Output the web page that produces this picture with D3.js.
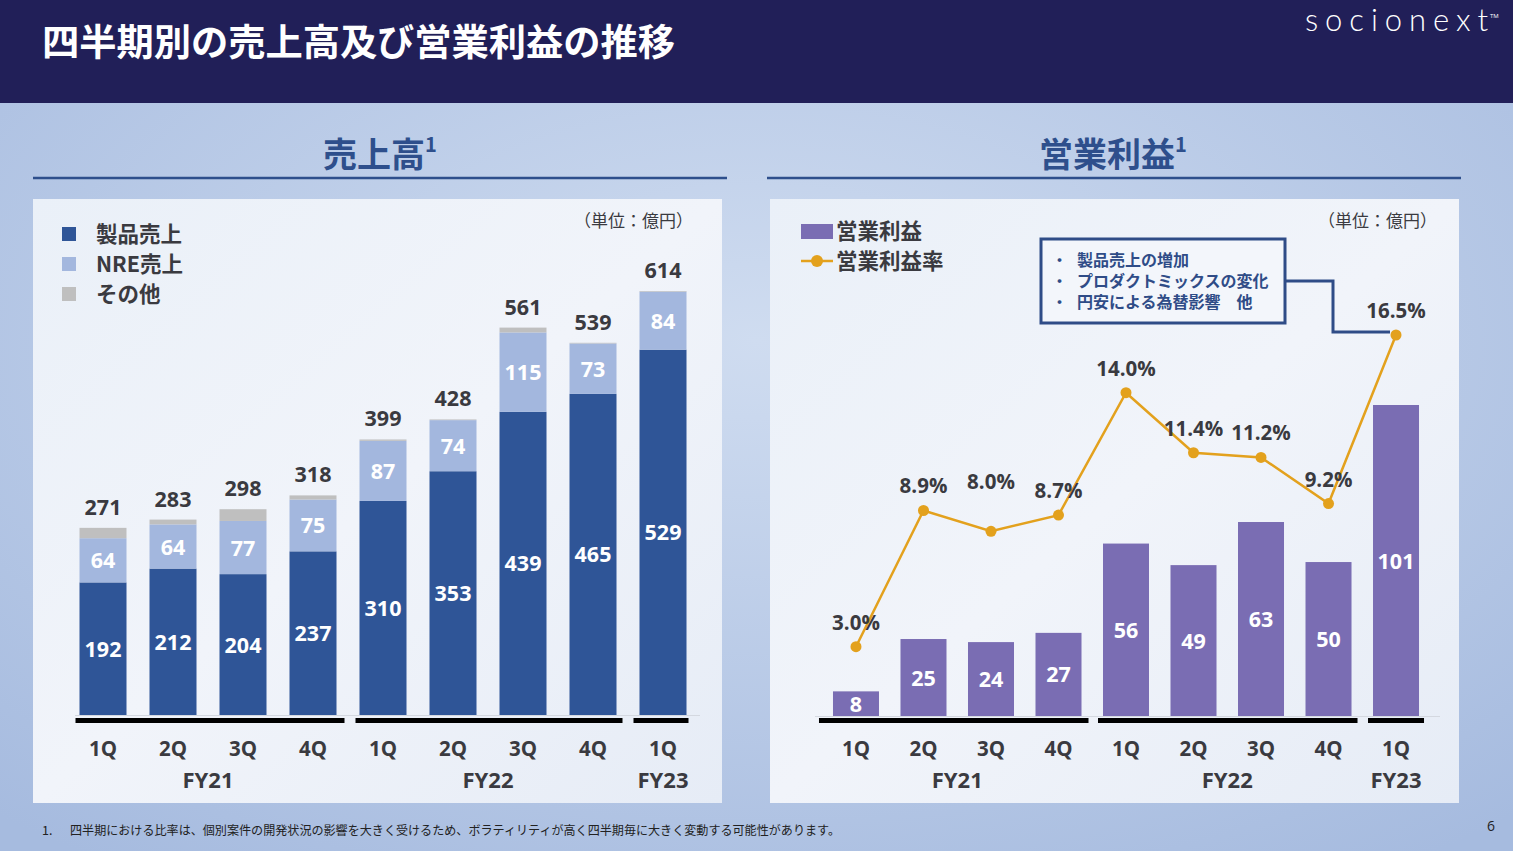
<!DOCTYPE html>
<html>
<head>
<meta charset="utf-8">
<script src="https://cdn.jsdelivr.net/npm/d3@7"></script>
<style>
  html, body { margin: 0; padding: 0; background: #a9bee0; }
  svg { display: block; }
</style>
</head>
<body>
<svg id="chart" width="1513" height="851"></svg>
<script>
// ---------------- data ----------------
const quarters = ["1Q", "2Q", "3Q", "4Q", "1Q", "2Q", "3Q", "4Q", "1Q"];
const fiscalYears = [
  { label: "FY21", start: 0, end: 3 },
  { label: "FY22", start: 4, end: 7 },
  { label: "FY23", start: 8, end: 8 }
];
const productSales = [192, 212, 204, 237, 310, 353, 439, 465, 529];
const nreSales = [64, 64, 77, 75, 87, 74, 115, 73, 84];
const totalSales = [271, 283, 298, 318, 399, 428, 561, 539, 614];
const operatingProfit = [8, 25, 24, 27, 56, 49, 63, 50, 101];
const operatingMargin = [3.0, 8.9, 8.0, 8.7, 14.0, 11.4, 11.2, 9.2, 16.5];
const marginLabelText = ["3.0%", "8.9%", "8.0%", "8.7%", "14.0%", "11.4%", "11.2%", "9.2%", "16.5%"];
const salesLegend = ["製品売上", "NRE売上", "その他"];
const profitLegend = ["営業利益", "営業利益率"];
const calloutLines = ["製品売上の増加", "プロダクトミックスの変化", "円安による為替影響　他"];

// ---------------- style ----------------
const C = {
  header: "#211f58",
  product: "#2f5597",
  nre: "#a3b7de",
  other: "#bfbfbf",
  purple: "#7a6db3",
  gold: "#e3a11d",
  title: "#2e4f8c",
  text: "#3a3a40",
  box: "#2f4c87"
};
const JP = "'Noto Sans CJK JP', 'Noto Sans', sans-serif";
const NUM = "'Open Sans', 'Noto Sans', sans-serif";

const svg = d3.select("#chart");
const defs = svg.append("defs");

// background gradient
const bg = defs.append("radialGradient").attr("id", "bg")
  .attr("cx", "50%").attr("cy", "40%").attr("r", "75%");
bg.append("stop").attr("offset", "0%").attr("stop-color", "#cfdcf0");
bg.append("stop").attr("offset", "100%").attr("stop-color", "#a6bbdf");
svg.append("rect").attr("width", 1513).attr("height", 851).attr("fill", "url(#bg)");

const pg = defs.append("linearGradient").attr("id", "panel")
  .attr("x1", "0").attr("y1", "0").attr("x2", "1").attr("y2", "1");
pg.append("stop").attr("offset", "0%").attr("stop-color", "#eaf0f8");
pg.append("stop").attr("offset", "50%").attr("stop-color", "#f1f4fa");
pg.append("stop").attr("offset", "100%").attr("stop-color", "#e6ecf6");

// header
svg.append("rect").attr("width", 1513).attr("height", 103).attr("fill", C.header);
svg.append("text").attr("x", 42).attr("y", 56)
  .attr("font-family", JP).attr("font-weight", 700).attr("font-size", 37)
  .attr("fill", "#ffffff").attr("textLength", 633).attr("lengthAdjust", "spacingAndGlyphs")
  .text("四半期別の売上高及び営業利益の推移");
svg.append("text").attr("x", 1305).attr("y", 31)
  .attr("font-family", "Lato, 'Open Sans', sans-serif").attr("font-weight", 300)
  .attr("font-size", 31).attr("fill", "#ffffff")
  .attr("textLength", 183).attr("lengthAdjust", "spacing").text("socionext");
svg.append("text").attr("x", 1490).attr("y", 18)
  .attr("font-family", NUM).attr("font-size", 6).attr("fill", "#ffffff").text("TM");

// section titles
function sectionTitle(cx, label, x0, x1) {
  const t = svg.append("text").attr("x", cx).attr("y", 167).attr("text-anchor", "middle")
    .attr("font-family", JP).attr("font-weight", 700).attr("font-size", 34).attr("fill", C.title);
  t.append("tspan").text(label);
  t.append("tspan").attr("font-size", 20).attr("dy", -15).text("1");
  svg.append("line").attr("x1", x0).attr("x2", x1).attr("y1", 178).attr("y2", 178)
    .attr("stroke", C.title).attr("stroke-width", 2.5);
}
sectionTitle(380, "売上高", 33, 727);
sectionTitle(1113, "営業利益", 767, 1461);

// panels
svg.append("rect").attr("x", 33).attr("y", 199).attr("width", 689).attr("height", 604).attr("fill", "url(#panel)");
svg.append("rect").attr("x", 770).attr("y", 199).attr("width", 689).attr("height", 604).attr("fill", "url(#panel)");

// unit labels
svg.append("text").attr("x", 693).attr("y", 227).attr("text-anchor", "end")
  .attr("font-family", JP).attr("font-size", 17).attr("fill", C.text).text("（単位：億円）");
svg.append("text").attr("x", 1437).attr("y", 227).attr("text-anchor", "end")
  .attr("font-family", JP).attr("font-size", 17).attr("fill", C.text).text("（単位：億円）");

// ---------------- left chart: 売上高 ----------------
const idx = d3.range(quarters.length);
const xL = d3.scaleBand().domain(idx).range([68, 698]).paddingInner(0.3286).paddingOuter(0.1643);
const yL = d3.scaleLinear().domain([0, 614]).range([715, 291]);

const stacks = idx.map(i => {
  const other = totalSales[i] - productSales[i] - nreSales[i];
  return [
    { key: "product", y0: 0, y1: productSales[i], v: productSales[i], color: C.product },
    { key: "nre", y0: productSales[i], y1: productSales[i] + nreSales[i], v: nreSales[i], color: C.nre },
    { key: "other", y0: productSales[i] + nreSales[i], y1: totalSales[i], v: other, color: C.other }
  ].map(d => Object.assign(d, { i }));
});

const gL = svg.append("g");
gL.append("line").attr("x1", 75).attr("x2", 700).attr("y1", yL(0) + 0.5).attr("y2", yL(0) + 0.5)
  .attr("stroke", "#d4d8e0").attr("stroke-width", 1);

stacks.forEach(st => {
  gL.selectAll(null).data(st).enter().append("rect")
    .attr("x", d => xL(d.i)).attr("width", xL.bandwidth())
    .attr("y", d => yL(d.y1)).attr("height", d => Math.max(0, yL(d.y0) - yL(d.y1)))
    .attr("fill", d => d.color);
  gL.selectAll(null).data(st.filter(d => d.key !== "other")).enter().append("text")
    .attr("x", d => xL(d.i) + xL.bandwidth() / 2)
    .attr("y", d => (yL(d.y0) + yL(d.y1)) / 2 + 8)
    .attr("text-anchor", "middle").attr("font-family", NUM).attr("font-weight", 700)
    .attr("font-size", 21.5).attr("fill", "#ffffff").text(d => d.v);
});
gL.selectAll(null).data(idx).enter().append("text")
  .attr("x", i => xL(i) + xL.bandwidth() / 2).attr("y", i => yL(totalSales[i]) - 13)
  .attr("text-anchor", "middle").attr("font-family", NUM).attr("font-weight", 700)
  .attr("font-size", 21.5).attr("fill", C.text).text(i => totalSales[i]);

// x axis
function drawXAxis(g, x, groupExt) {
  g.selectAll(null).data(fiscalYears).enter().append("rect")
    .attr("x", (d, k) => x(d.start) - groupExt[k][0])
    .attr("width", (d, k) => x(d.end) + x.bandwidth() + groupExt[k][1] - (x(d.start) - groupExt[k][0]))
    .attr("y", 718).attr("height", 5).attr("fill", "#000000");
  g.selectAll(null).data(idx).enter().append("text")
    .attr("x", i => x(i) + x.bandwidth() / 2).attr("y", 756)
    .attr("text-anchor", "middle").attr("font-family", NUM).attr("font-weight", 700)
    .attr("font-size", 20.5).attr("fill", C.text).text(i => quarters[i]);
  g.selectAll(null).data(fiscalYears).enter().append("text")
    .attr("x", d => (x(d.start) + x(d.end) + x.bandwidth()) / 2).attr("y", 788)
    .attr("text-anchor", "middle").attr("font-family", NUM).attr("font-weight", 700)
    .attr("font-size", 22).attr("fill", C.text).text(d => d.label);
}
drawXAxis(gL, xL, [[4, 8], [4, 6], [6, 2]]);

// legend (left)
const legColors = [C.product, C.nre, C.other];
salesLegend.forEach((s, k) => {
  const cy = 234 + k * 30;
  svg.append("rect").attr("x", 62).attr("y", cy - 7).attr("width", 14).attr("height", 14).attr("fill", legColors[k]);
  svg.append("text").attr("x", 96).attr("y", cy + 8).attr("font-family", JP).attr("font-weight", 700)
    .attr("font-size", 21.5).attr("fill", C.text).text(s);
});

// ---------------- right chart: 営業利益 ----------------
const xR = d3.scaleBand().domain(idx).range([822.25, 1429.75]).paddingInner(0.3185).paddingOuter(0.159);
const yR = d3.scaleLinear().domain([0, 101]).range([716, 405]);
const yP = d3.scaleLinear().domain([0, 16.5]).range([716, 335]);

const gR = svg.append("g");
gR.append("line").attr("x1", 815).attr("x2", 1440).attr("y1", 716.5).attr("y2", 716.5)
  .attr("stroke", "#d4d8e0").attr("stroke-width", 1);
gR.selectAll(null).data(idx).enter().append("rect")
  .attr("x", i => xR(i)).attr("width", xR.bandwidth())
  .attr("y", i => yR(operatingProfit[i])).attr("height", i => yR(0) - yR(operatingProfit[i]))
  .attr("fill", C.purple);
gR.selectAll(null).data(idx).enter().append("text")
  .attr("x", i => xR(i) + xR.bandwidth() / 2)
  .attr("y", i => (yR(0) + yR(operatingProfit[i])) / 2 + 8)
  .attr("text-anchor", "middle").attr("font-family", NUM).attr("font-weight", 700)
  .attr("font-size", 21.5).attr("fill", "#ffffff").text(i => operatingProfit[i]);

drawXAxis(gR, xR, [[14, 7], [5, 6], [5, 5]]);

// callout box + connector
gR.append("path")
  .attr("d", d3.line()([[1286, 281], [1333, 281], [1333, 332], [xR(8) + xR.bandwidth() / 2 - 6, 332]]))
  .attr("fill", "none").attr("stroke", C.box).attr("stroke-width", 3);
gR.append("rect").attr("x", 1041).attr("y", 239).attr("width", 244).attr("height", 84)
  .attr("fill", "#f3f6fb").attr("stroke", C.box).attr("stroke-width", 3);
calloutLines.forEach((s, k) => {
  const by = 266 + k * 21;
  gR.append("text").attr("x", 1052).attr("y", by).attr("font-family", JP).attr("font-weight", 700)
    .attr("font-size", 15).attr("fill", C.box).text("・");
  gR.append("text").attr("x", 1077).attr("y", by).attr("font-family", JP).attr("font-weight", 700)
    .attr("font-size", 16).attr("fill", C.box).text(s);
});

// margin line
const lineGen = d3.line().x(i => xR(i) + xR.bandwidth() / 2).y(i => yP(operatingMargin[i]));
gR.append("path").datum(idx).attr("d", lineGen).attr("fill", "none")
  .attr("stroke", C.gold).attr("stroke-width", 2.5);
gR.selectAll(null).data(idx).enter().append("circle")
  .attr("cx", i => xR(i) + xR.bandwidth() / 2).attr("cy", i => yP(operatingMargin[i]))
  .attr("r", 5.5).attr("fill", C.gold);
const labelLift = [17, 17, 42, 17, 17, 17, 17, 17, 17];
gR.selectAll(null).data(idx).enter().append("text")
  .attr("x", i => xR(i) + xR.bandwidth() / 2).attr("y", i => yP(operatingMargin[i]) - labelLift[i])
  .attr("text-anchor", "middle").attr("font-family", NUM).attr("font-weight", 700)
  .attr("font-size", 20.5).attr("fill", C.text).text(i => marginLabelText[i]);

// legend (right)
svg.append("rect").attr("x", 801).attr("y", 224).attr("width", 32).attr("height", 15).attr("fill", C.purple);
svg.append("text").attr("x", 836).attr("y", 239).attr("font-family", JP).attr("font-weight", 700)
  .attr("font-size", 21.5).attr("fill", C.text).text(profitLegend[0]);
svg.append("line").attr("x1", 801).attr("x2", 833).attr("y1", 261).attr("y2", 261)
  .attr("stroke", C.gold).attr("stroke-width", 2.5);
svg.append("circle").attr("cx", 817).attr("cy", 261).attr("r", 6).attr("fill", C.gold);
svg.append("text").attr("x", 836).attr("y", 269).attr("font-family", JP).attr("font-weight", 700)
  .attr("font-size", 21.5).attr("fill", C.text).text(profitLegend[1]);

// footnote + page number
svg.append("text").attr("x", 42).attr("y", 835).attr("font-family", JP)
  .attr("font-size", 12.5).attr("fill", "#222").text("1.");
svg.append("text").attr("x", 70).attr("y", 835).attr("font-family", JP)
  .attr("font-size", 12.5).attr("fill", "#222")
  .attr("textLength", 770).attr("lengthAdjust", "spacingAndGlyphs")
  .text("四半期における比率は、個別案件の開発状況の影響を大きく受けるため、ボラティリティが高く四半期毎に大きく変動する可能性があります。");
svg.append("text").attr("x", 1495).attr("y", 831).attr("text-anchor", "end").attr("font-family", NUM)
  .attr("font-size", 14).attr("fill", "#222").text("6");
</script>
</body>
</html>
